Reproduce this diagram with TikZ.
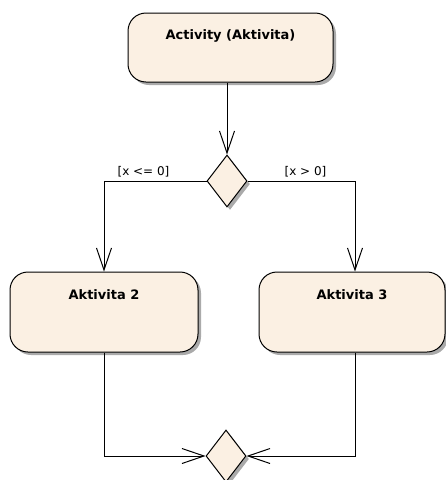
\documentclass[tikz,border=0pt]{standalone}
\usepackage{fontspec}
\setmainfont{DejaVu Sans}
\usetikzlibrary{shapes.geometric,arrows.meta,shadows}
\definecolor{boxfill}{RGB}{251,240,227}
\definecolor{shadowc}{RGB}{170,170,170}
\tikzset{
  act/.style={draw=black, line width=1pt, fill=boxfill, rounded corners=18pt,
    drop shadow={shadow xshift=3pt, shadow yshift=-3pt, fill=shadowc, opacity=1},
    inner sep=0pt},
  dec/.style={draw=black, line width=1pt, fill=boxfill, diamond, inner sep=0pt,
    minimum width=40pt, minimum height=52pt,
    drop shadow={shadow xshift=3pt, shadow yshift=-3pt, fill=shadowc, opacity=1}},
  acttext/.style={font=\bfseries\fontsize{13}{15}\selectfont, inner sep=0pt},
  guard/.style={font=\fontsize{12}{14}\selectfont, inner sep=0pt},
  flow/.style={draw=black, line width=1pt, -{Straight Barb[length=22pt,width=15pt,line width=1pt]}},
  plain/.style={draw=black, line width=1pt}
}
\begin{document}
\begin{tikzpicture}[x=1pt,y=-1pt]
\useasboundingbox (0,0) rectangle (446,480);
\node[act, minimum width=205pt, minimum height=69pt] (A) at (230.5,47.5) {};
\node[acttext] (At) at ([yshift=-23pt]A.north) {Activity (Aktivita)};
\node[dec] (D1) at (227,181) {};
\node[act, minimum width=188pt, minimum height=80pt] (B) at (104,312) {};
\node[acttext] (Bt) at ([yshift=-23pt]B.north) {Aktivita 2};
\node[act, minimum width=186pt, minimum height=80pt] (C) at (352,312) {};
\node[acttext] (Ct) at ([yshift=-23pt]C.north) {Aktivita 3};
\node[dec] (D2) at (226,456) {};
\node[guard] (g1) at (143.5,172) {[x <= 0]};
\node[guard] (g2) at (305.5,172) {[x > 0]};
\coordinate (cl) at (104,181);
\coordinate (cr) at (355,181);
\coordinate (bl) at (104,456);
\coordinate (br) at (355,456);
\draw[flow] (A.south -| D1.north) -- (D1.north);
\draw[flow] (D1.west) -- (cl) -- (cl |- B.north);
\draw[flow] (D1.east) -- (cr) -- (cr |- C.north);
\draw[flow] (bl |- B.south) -- (bl) -- (D2.west);
\draw[flow] (br |- C.south) -- (br) -- (D2.east);
\end{tikzpicture}
\end{document}
